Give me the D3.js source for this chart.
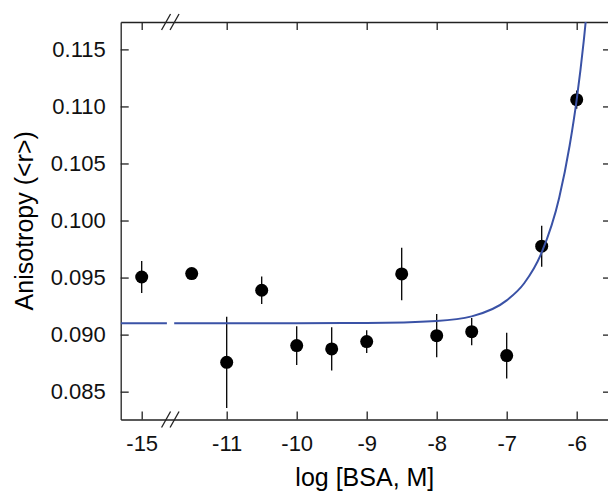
<!DOCTYPE html>
<html>
    <head>
        <meta charset="utf-8">
        <script src="https://cdnjs.cloudflare.com/ajax/libs/d3/7.8.5/d3.min.js"></script>
        <title>Anisotropy vs BSA</title>

        <style>
            html, body {
                margin: 0;
                background: white;
            }

            svg {
                display: block;
                font-family: "Liberation Sans", Arial, sans-serif;
            }

            .axis path, .axis line {
                stroke: #222;
                stroke-width: 1.3;
            }

            .axis text {
                font-size: 22px;
                fill: #111;
            }
        </style>
    </head>
    <body>
        <svg width="608" height="493"></svg>

        <script>

            // log [BSA, M]
            var logConc = [-15, -11.5, -11, -10.5, -10, -9.5, -9, -8.5, -8, -7.5, -7, -6.5, -6];
            var anisotropy = [0.09505, 0.09535, 0.08757, 0.09389, 0.08904, 0.08875, 0.08939,
                              0.09532, 0.08991, 0.09026, 0.08816, 0.09775, 0.11059];
            var errors = [0.0014, 0.0003, 0.0040, 0.0012, 0.0017, 0.0019, 0.0010,
                          0.0023, 0.0019, 0.0012, 0.0020, 0.0018, 0.0008];

            // fit curve (left and right of the axis break)
            var fitLeftX = [-15.3, -14.64];
            var fitLeftY = [0.0910, 0.0910];
            var fitRightX = [-11.75, -10, -9, -8, -7.5, -7, -6.75, -6.5, -6.25, -6.1, -6, -5.9, -5.8];
            var fitRightY = [0.0910, 0.0910, 0.09102, 0.0912, 0.0916, 0.0930, 0.0945, 0.0972,
                             0.1020, 0.1066, 0.1106, 0.1157, 0.1222];

            var xTicks = [-15, -11, -10, -9, -8, -7, -6];
            var yTicks = [0.085, 0.090, 0.095, 0.100, 0.105, 0.110, 0.115];

            var plotLeft = 120.7, plotTop = 22, plotRight = 611, plotBottom = 419.5;

            // broken axis: piecewise linear scale
            var x = d3.scaleLinear()
                .domain([-15.3, -14.64, -11.75, -5.51])
                .range([plotLeft, 166.9, 174.2, plotRight]);

            var y = d3.scaleLinear()
                .domain([0.08256, 0.1174])
                .range([plotBottom, plotTop]);

            var svg = d3.select("svg");

            svg.append("defs").append("clipPath")
                .attr("id", "plotArea")
                .append("rect")
                .attr("x", plotLeft)
                .attr("y", plotTop)
                .attr("width", plotRight - plotLeft)
                .attr("height", plotBottom - plotTop);

            // axes, ticks pointing inward
            svg.append("g")
                .attr("class", "axis")
                .attr("transform", "translate(0," + plotBottom + ")")
                .call(d3.axisBottom(x).tickValues(xTicks).tickSizeInner(-8).tickSizeOuter(0).tickPadding(16)
                    .tickFormat(function(d) { return String(d); }));

            svg.append("g")
                .attr("class", "axis")
                .attr("transform", "translate(0," + plotTop + ")")
                .call(d3.axisTop(x).tickValues(xTicks).tickSizeInner(-8).tickSizeOuter(0).tickFormat(""));

            svg.append("g")
                .attr("class", "axis")
                .attr("transform", "translate(" + plotLeft + ",0)")
                .call(d3.axisLeft(y).tickValues(yTicks).tickSizeInner(-8).tickSizeOuter(0).tickPadding(15)
                    .tickFormat(d3.format(".3f")));

            svg.append("g")
                .attr("class", "axis")
                .attr("transform", "translate(" + plotRight + ",0)")
                .call(d3.axisRight(y).tickValues(yTicks).tickSizeInner(-8).tickSizeOuter(0).tickFormat(""));

            // break marks on top and bottom axes
            var breakX = (x(-14.64) + x(-11.75)) / 2;
            [plotTop, plotBottom].forEach(function(yy) {
                [-4.5, 4].forEach(function(off) {
                    svg.append("line")
                        .attr("x1", breakX + off - 4.5)
                        .attr("y1", yy + 8)
                        .attr("x2", breakX + off + 4.5)
                        .attr("y2", yy - 8)
                        .attr("stroke", "#222")
                        .attr("stroke-width", 1.3);
                });
            });

            var points = logConc.map(function(v, i) {
                return {x: v, y: anisotropy[i], e: errors[i]};
            });

            var plot = svg.append("g").attr("clip-path", "url(#plotArea)");

            plot.selectAll(".err")
                .data(points)
                .enter()
                .append("line")
                .attr("class", "err")
                .attr("x1", function(d) { return x(d.x); })
                .attr("x2", function(d) { return x(d.x); })
                .attr("y1", function(d) { return y(d.y - d.e); })
                .attr("y2", function(d) { return y(d.y + d.e); })
                .attr("stroke", "black")
                .attr("stroke-width", 1.3);

            plot.selectAll(".dot")
                .data(points)
                .enter()
                .append("circle")
                .attr("class", "dot")
                .attr("cx", function(d) { return x(d.x); })
                .attr("cy", function(d) { return y(d.y); })
                .attr("r", 6.5)
                .attr("fill", "black");

            var line = d3.line()
                .x(function(d) { return x(d[0]); })
                .y(function(d) { return y(d[1]); })
                .curve(d3.curveMonotoneX);

            [[fitLeftX, fitLeftY], [fitRightX, fitRightY]].forEach(function(seg) {
                plot.append("path")
                    .datum(d3.zip(seg[0], seg[1]))
                    .attr("d", line)
                    .attr("fill", "none")
                    .attr("stroke", "#3a52a6")
                    .attr("stroke-width", 2);
            });

            // axis titles
            svg.append("text")
                .attr("x", (plotLeft + plotRight) / 2 - 1)
                .attr("y", 486)
                .attr("text-anchor", "middle")
                .style("font-size", "25px")
                .text("log [BSA, M]");

            svg.append("text")
                .attr("transform", "translate(33," + (plotTop + plotBottom) / 2 + ") rotate(-90)")
                .attr("text-anchor", "middle")
                .style("font-size", "25px")
                .text("Anisotropy (<r>)");

        </script>
    </body>
</html>
